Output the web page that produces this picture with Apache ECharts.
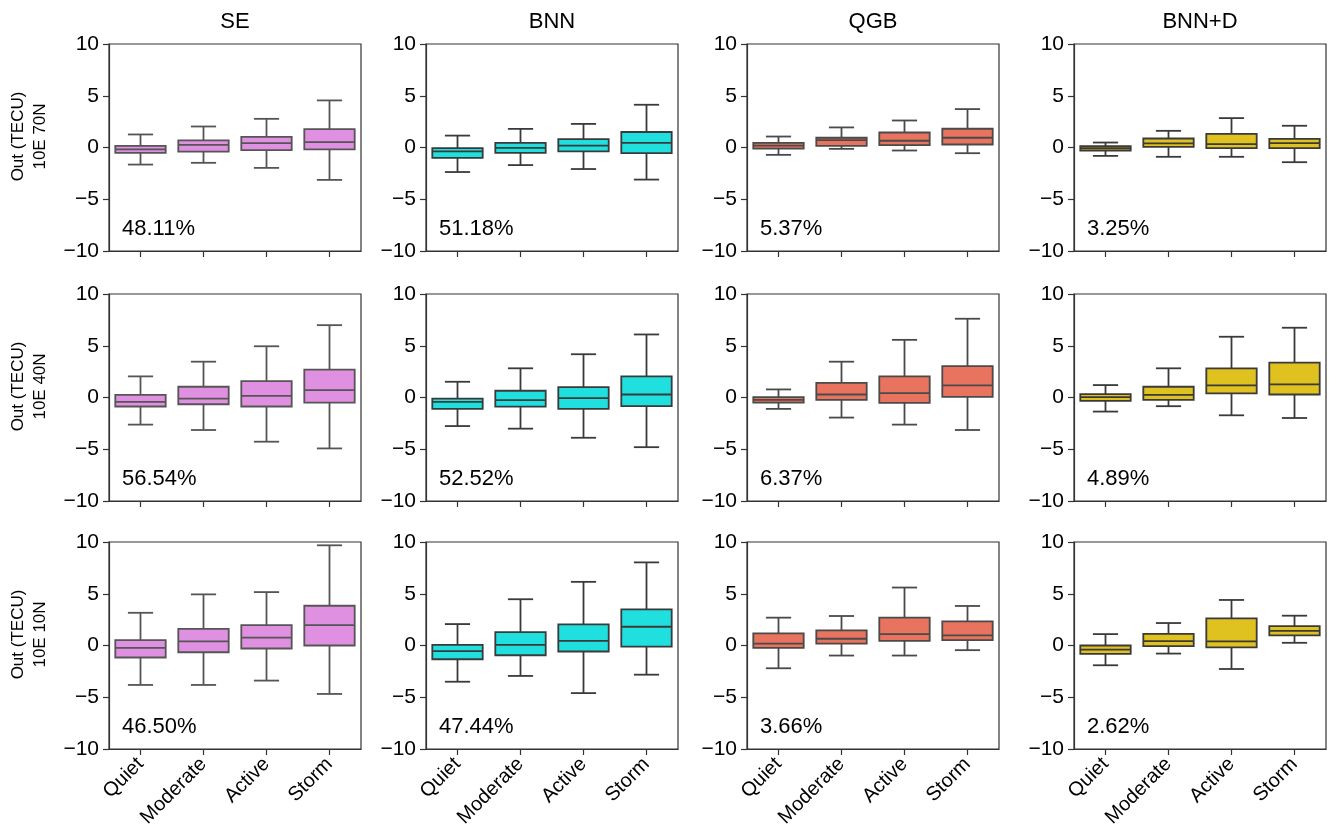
<!DOCTYPE html>
<html>
<head>
<meta charset="utf-8">
<script src="https://cdn.jsdelivr.net/npm/echarts@6/dist/echarts.min.js"></script>
<style>
  html, body { margin: 0; padding: 0; background: #fff; }
  #main { width: 1332px; height: 838px; }
</style>
</head>
<body>
<div id="main"></div>
<script>
// box plots: [whisker low, q1, median, q3, whisker high] per activity level
const categories = ['Quiet', 'Moderate', 'Active', 'Storm']
const models = ['SE', 'BNN', 'QGB', 'BNN+D']
const locations = ['10E 70N', '10E 40N', '10E 10N']
const yTicks = [-10, -5, 0, 5, 10]

const se70 = [[-1.65, -0.52, -0.19, 0.16, 1.26], [-1.48, -0.39, 0.26, 0.68, 2.03], [-1.97, -0.26, 0.42, 1.03, 2.77], [-3.13, -0.19, 0.52, 1.77, 4.55]]
const bnn70 = [[-2.37, -1.0, -0.38, -0.06, 1.15], [-1.7, -0.51, -0.03, 0.45, 1.8], [-2.08, -0.38, 0.19, 0.8, 2.28], [-3.1, -0.54, 0.45, 1.5, 4.13]]
const qgb70 = [[-0.71, -0.1, 0.19, 0.45, 1.06], [-0.13, 0.16, 0.71, 0.94, 1.94], [-0.29, 0.23, 0.65, 1.45, 2.61], [-0.55, 0.29, 0.94, 1.81, 3.71]]
const bnnd70 = [[-0.81, -0.29, -0.06, 0.13, 0.48], [-0.9, 0.06, 0.39, 0.87, 1.61], [-0.9, -0.06, 0.32, 1.32, 2.84], [-1.42, -0.06, 0.42, 0.84, 2.1]]

const se40 = [[-2.62, -0.87, -0.42, 0.26, 2.04], [-3.14, -0.65, -0.1, 1.04, 3.46], [-4.27, -0.87, 0.16, 1.59, 4.95], [-4.92, -0.49, 0.71, 2.69, 6.99]]
const bnn40 = [[-2.76, -1.1, -0.42, -0.1, 1.52], [-3.01, -0.88, -0.26, 0.65, 2.82], [-3.89, -1.1, -0.06, 1.0, 4.18], [-4.8, -0.84, 0.29, 2.04, 6.09]]
const qgb40 = [[-1.1, -0.49, -0.23, 0.03, 0.78], [-1.94, -0.23, 0.29, 1.42, 3.46], [-2.62, -0.52, 0.42, 2.04, 5.57], [-3.14, 0.06, 1.17, 3.04, 7.61]]
const bnnd40 = [[-1.36, -0.32, 0.03, 0.32, 1.2], [-0.84, -0.23, 0.26, 1.04, 2.82], [-1.72, 0.39, 1.17, 2.82, 5.87], [-1.98, 0.29, 1.26, 3.37, 6.74]]

const se10 = [[-3.81, -1.16, -0.23, 0.52, 3.16], [-3.81, -0.65, 0.39, 1.61, 4.94], [-3.39, -0.29, 0.77, 1.97, 5.16], [-4.68, 0.0, 1.97, 3.84, 9.68]]
const bnn10 = [[-3.5, -1.33, -0.55, 0.06, 2.07], [-2.94, -0.94, 0.06, 1.29, 4.47], [-4.6, -0.58, 0.45, 2.04, 6.15], [-2.82, -0.1, 1.81, 3.5, 8.03]]
const qgb10 = [[-2.2, -0.23, 0.19, 1.17, 2.69], [-0.97, 0.19, 0.65, 1.46, 2.85], [-0.97, 0.45, 1.1, 2.69, 5.6], [-0.45, 0.52, 0.97, 2.33, 3.82]]
const bnnd10 = [[-1.91, -0.81, -0.39, 0.0, 1.1], [-0.78, -0.06, 0.42, 1.13, 2.17], [-2.27, -0.19, 0.39, 2.62, 4.4], [0.26, 0.97, 1.42, 1.88, 2.88]]

const percents = [
  ['48.11%', '51.18%', '5.37%', '3.25%'],
  ['56.54%', '52.52%', '6.37%', '4.89%'],
  ['46.50%', '47.44%', '3.66%', '2.62%']
]

const panels = [
  [se70, bnn70, qgb70, bnnd70],
  [se40, bnn40, qgb40, bnnd40],
  [se10, bnn10, qgb10, bnnd10]
]

const fills = ['#e090e0', '#20dfdf', '#e8735e', '#dfc120']
const grays = ['#555555', '#3a3a3a', '#4a4a4a', '#3a3a3a']

const gridLefts = [109, 426, 747, 1074]
const gridTops = [44, 294, 542]
const gridW = 252
const gridH = 207
const font = '"Liberation Sans", Arial, sans-serif'

function makeRender (fill, gray) {
  return function (params, api) {
    const x = api.value(0)
    const lo = api.coord([x, api.value(1)])
    const q1 = api.coord([x, api.value(2)])
    const med = api.coord([x, api.value(3)])
    const q3 = api.coord([x, api.value(4)])
    const hi = api.coord([x, api.value(5)])
    const band = api.size([1, 0])[0]
    const bw = band * 0.8
    const cw = band * 0.4
    const cx = lo[0]
    const ls = { stroke: gray, lineWidth: 1.8 }
    return {
      type: 'group',
      children: [
        { type: 'line', shape: { x1: cx, y1: hi[1], x2: cx, y2: q3[1] }, style: ls },
        { type: 'line', shape: { x1: cx, y1: q1[1], x2: cx, y2: lo[1] }, style: ls },
        { type: 'line', shape: { x1: cx - cw / 2, y1: hi[1], x2: cx + cw / 2, y2: hi[1] }, style: ls },
        { type: 'line', shape: { x1: cx - cw / 2, y1: lo[1], x2: cx + cw / 2, y2: lo[1] }, style: ls },
        { type: 'rect', shape: { x: cx - bw / 2, y: q3[1], width: bw, height: q1[1] - q3[1] }, style: { fill: fill, stroke: gray, lineWidth: 1.8 } },
        { type: 'line', shape: { x1: cx - bw / 2, y1: med[1], x2: cx + bw / 2, y2: med[1] }, style: ls }
      ]
    }
  }
}

let myChart = echarts.init(document.getElementById('main'))
let grid = []
let xAxis = []
let yAxis = []
let series = []
let graphic = []

models.forEach((m, c) => {
  graphic.push({
    type: 'text', x: gridLefts[c] + gridW / 2, y: 11,
    style: { text: m, fontSize: 22, fontFamily: font, fill: '#000', align: 'center', verticalAlign: 'top' }
  })
})

for (let r = 0; r < 3; r++) {
  for (let c = 0; c < 4; c++) {
    const i = r * 4 + c
    grid.push({
      left: gridLefts[c], top: gridTops[r], width: gridW, height: gridH,
      show: true, borderColor: '#333', borderWidth: 1.2, backgroundColor: 'transparent'
    })
    xAxis.push({
      type: 'category', gridIndex: i, data: categories, boundaryGap: true,
      axisLine: { show: true, onZero: false, lineStyle: { color: '#333', width: 1.2 } },
      axisTick: { show: true, alignWithLabel: true, length: 6, lineStyle: { color: '#333', width: 1.2 } },
      axisLabel: { show: r === 2, rotate: 45, fontSize: 20, fontFamily: font, color: '#000', margin: 12 },
      splitLine: { show: false }
    })
    yAxis.push({
      type: 'value', gridIndex: i, min: yTicks[0], max: yTicks[yTicks.length - 1], interval: 5,
      axisLine: { show: true, lineStyle: { color: '#333', width: 1.2 } },
      axisTick: { show: true, length: 6, lineStyle: { color: '#333', width: 1.2 } },
      axisLabel: {
        fontSize: 21, fontFamily: font, color: '#000', margin: 10,
        formatter: v => String(v).replace('-', '\u2212')
      },
      splitLine: { show: false },
      name: c === 0 ? 'Out (TECU)\n' + locations[r] : '',
      nameLocation: 'middle', nameRotate: 90, nameGap: 58,
      nameTextStyle: { fontSize: 17, fontFamily: font, color: '#000', lineHeight: 22, padding: [0, 0, 0, 22] }
    })
    series.push({
      type: 'custom', xAxisIndex: i, yAxisIndex: i,
      renderItem: makeRender(fills[c], grays[c]),
      encode: { x: 0, y: [1, 2, 3, 4, 5] },
      data: panels[r][c].map((b, k) => [k].concat(b))
    })
    graphic.push({
      type: 'text', x: gridLefts[c] + 13, y: gridTops[r] + gridH - 33,
      style: { text: percents[r][c], fontSize: 22, fontFamily: font, fill: '#000', verticalAlign: 'top' }
    })
  }
}

let options = {
  backgroundColor: '#fff',
  animation: false,
  grid: grid,
  xAxis: xAxis,
  yAxis: yAxis,
  series: series,
  graphic: graphic
}
myChart.setOption(options)
</script>
</body>
</html>
